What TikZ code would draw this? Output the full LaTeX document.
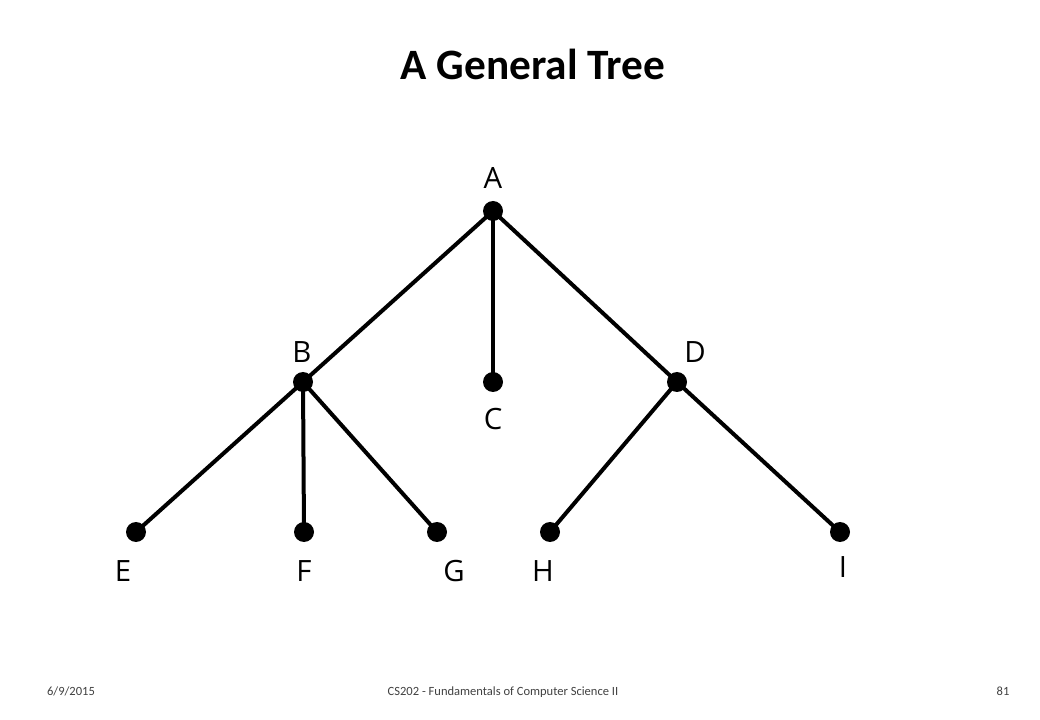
\documentclass[tikz,border=0pt]{standalone}
\usepackage{fontspec}
\setmainfont{Carlito}
\newfontfamily\lblfont{Open Sans}
\begin{document}
\begin{tikzpicture}[x=0.75pt,y=-0.75pt,
  dot/.style={circle,fill=black,inner sep=0pt,minimum size=15pt},
  lbl/.style={font=\lblfont\fontsize{22}{24}\selectfont,inner sep=0pt},
  edge/.style={line width=3pt},
  foot/.style={font=\fontsize{9.4}{11}\selectfont,text=black!75,inner sep=0pt,anchor=base}]
\useasboundingbox (0,0) rectangle (1040,720);
\node[font=\bfseries\fontsize{32.5}{36}\selectfont,inner sep=0pt] (title) at (533,64) {A General Tree};
\node[dot] (A) at (493,211) {};
\node[dot] (B) at (303,382) {};
\node[dot] (C) at (493,382) {};
\node[dot] (D) at (677,382) {};
\node[dot] (E) at (136,532) {};
\node[dot] (F) at (304,532) {};
\node[dot] (G) at (437,532) {};
\node[dot] (H) at (550,532) {};
\node[dot] (I) at (840,532) {};
\draw[edge] (A.center) -- (B.center);
\draw[edge] (A.center) -- (C.center);
\draw[edge] (A.center) -- (D.center);
\draw[edge] (B.center) -- (E.center);
\draw[edge] (B.center) -- (F.center);
\draw[edge] (B.center) -- (G.center);
\draw[edge] (D.center) -- (H.center);
\draw[edge] (D.center) -- (I.center);
\node[lbl] (lA) at (493,178) {A};
\node[lbl] (lB) at (302,352) {B};
\node[lbl] (lC) at (493,419) {C};
\node[lbl] (lD) at (695,352) {D};
\node[lbl] (lE) at (123,571) {E};
\node[lbl] (lF) at (304,571) {F};
\node[lbl] (lG) at (454,571) {G};
\node[lbl] (lH) at (543,571) {H};
\node[lbl] (lI) at (843,567) {I};
\node[foot] (date) at (71,695) {6/9/2015};
\node[foot] (course) at (503,695) {CS202 - Fundamentals of Computer Science II};
\node[foot] (page) at (1003,695) {81};
\end{tikzpicture}
\end{document}
